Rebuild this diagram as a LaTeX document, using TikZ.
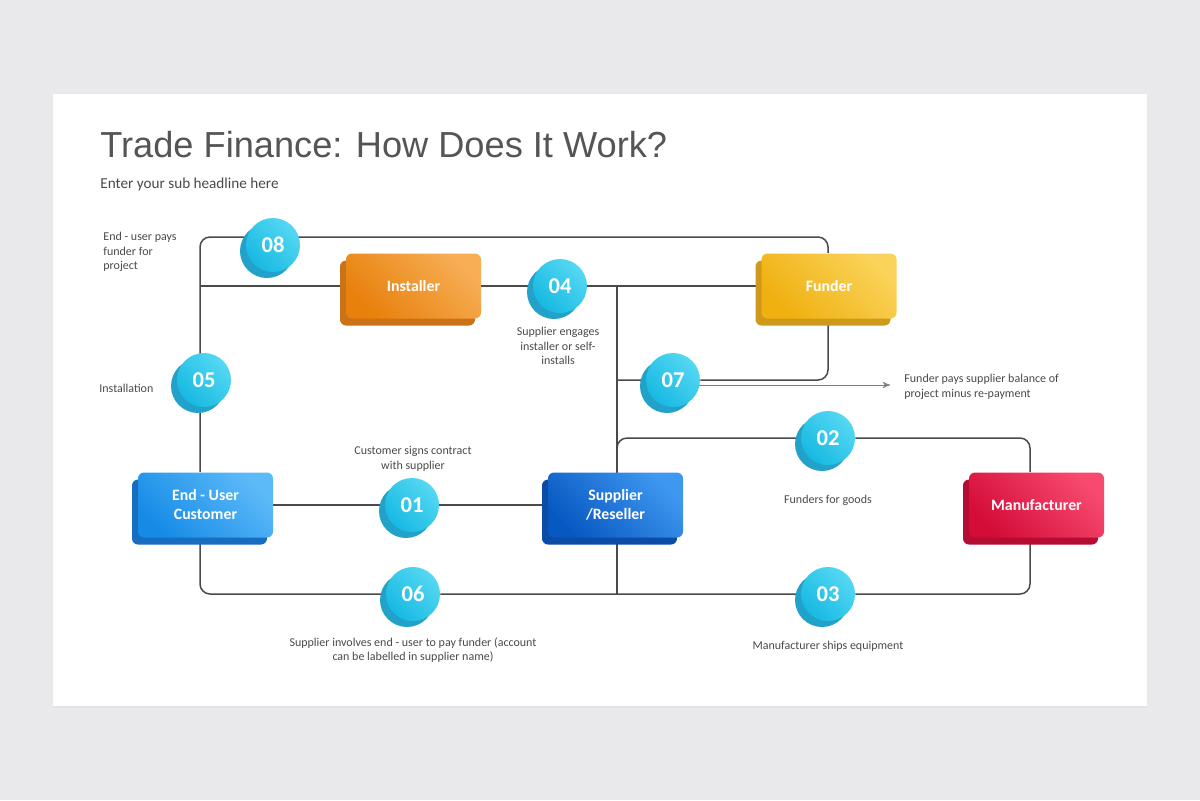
\documentclass[tikz,border=0pt]{standalone}
\usepackage{fontspec}
\setmainfont{Carlito}
\newfontfamily\titlefont{Liberation Sans}
\usetikzlibrary{shadows}
\usetikzlibrary{arrows}

\definecolor{pagegray}{HTML}{E9E8EA}
\definecolor{linegray}{HTML}{4A4A4A}
\definecolor{textgray}{HTML}{4A4A4A}
\definecolor{titlegray}{HTML}{555555}
\definecolor{cyanlo}{HTML}{17B9E2}
\definecolor{cyanhi}{HTML}{55D8F3}
\definecolor{cyanshade}{HTML}{23A2C9}
\definecolor{orangelo}{HTML}{E8800C}
\definecolor{orangehi}{HTML}{F7AE55}
\definecolor{orangeshade}{HTML}{C97218}
\definecolor{yellowlo}{HTML}{EFB010}
\definecolor{yellowhi}{HTML}{FAD35A}
\definecolor{yellowshade}{HTML}{CF9A1C}
\definecolor{bluelo}{HTML}{168BE6}
\definecolor{bluehi}{HTML}{5DBAF9}
\definecolor{blueshade}{HTML}{176DC0}
\definecolor{navylo}{HTML}{0858C2}
\definecolor{navyhi}{HTML}{3F98F0}
\definecolor{navyshade}{HTML}{0A4CA6}
\definecolor{redlo}{HTML}{D40C38}
\definecolor{redhi}{HTML}{F74A6E}
\definecolor{redshade}{HTML}{B50C33}

\pgfdeclarelayer{bg}
\pgfdeclarelayer{lines}
\pgfsetlayers{bg,lines,main}

\begin{document}
\begin{tikzpicture}[x=0.5pt,y=-0.5pt,>=stealth',
	link/.style={draw=linegray,line width=0.75pt,rounded corners=5pt},
	box/.style n args={3}{rectangle,rounded corners=3pt,minimum width=67.5pt,
		minimum height=32.5pt,inner sep=0pt,text=white,align=center,
		font=\bfseries\fontsize{7.9}{9.5}\selectfont,
		left color=#1,right color=#2,shading angle=135,
		general shadow={fill=#3,shadow xshift=-3pt,shadow yshift=-3.5pt}},
	num/.style={circle,minimum size=27pt,inner sep=0pt,text=white,
		font=\bfseries\fontsize{11.3}{13}\selectfont,
		left color=cyanlo,right color=cyanhi,shading angle=135,
		general shadow={fill=cyanshade,shadow xshift=-3pt,shadow yshift=-3pt}},
	note/.style={text=textgray,font=\fontsize{6}{7.25}\selectfont,inner sep=0pt}]
	
	\useasboundingbox (0,0) rectangle (1200,800);
	\begin{pgfonlayer}{bg}
		\fill[pagegray] (0,0) rectangle (1200,800);
		\fill[white,drop shadow={opacity=0.05,shadow xshift=0pt,shadow yshift=-1pt}] (53,94) rectangle (1147,706);
	\end{pgfonlayer}
	
	\node[anchor=base west,inner sep=0pt,text=titlegray,font=\titlefont\fontsize{18.1}{22}\selectfont] (title) at (100,157) {Trade Finance: How Does It Work?};
	\node[anchor=base west,inner sep=0pt,text=textgray,font=\fontsize{7.6}{9}\selectfont] (subtitle) at (100,188) {Enter your sub headline here};
	
	\node[box={orangelo}{orangehi}{orangeshade}] (installer) at (413.5,286) {Installer};
	\node[box={yellowlo}{yellowhi}{yellowshade}] (funder) at (829,286) {Funder};
	\node[box={bluelo}{bluehi}{blueshade}] (enduser) at (205.5,505) {End - User\\Customer};
	\node[box={navylo}{navyhi}{navyshade}] (supplier) at (615.5,505) {Supplier\\/Reseller};
	\node[box={redlo}{redhi}{redshade}] (manuf) at (1036.5,505) {Manufacturer};
	
	\node[num] (c01) at (412,505) {01};
	\node[num] (c02) at (828,438) {02};
	\node[num] (c03) at (828,594) {03};
	\node[num] (c04) at (560,286) {04};
	\node[num] (c05) at (204,380) {05};
	\node[num] (c06) at (413,594) {06};
	\node[num] (c07) at (673,380) {07};
	\node[num] (c08) at (273,245) {08};
	
	\node[note,anchor=north west,align=left] (n08) at (103,232) {End - user pays\\funder for\\project};
	\node[note,anchor=west] (n05) at (99,388) {Installation};
	\node[note,anchor=north,align=center] (n04) at (558,327) {Supplier engages\\installer or self-\\installs};
	\node[note,anchor=north west,align=left] (n07) at (904,374) {Funder pays supplier balance of\\project minus re-payment};
	\node[note,anchor=north,align=center] (n01) at (413,446) {Customer signs contract\\with supplier};
	\node[note] (n02) at (828,500) {Funders for goods};
	\node[note,anchor=north,align=center] (n06) at (413,637) {Supplier involves end - user to pay funder (account\\can be labelled in supplier name)};
	\node[note] (n03) at (828,646) {Manufacturer ships equipment};
	
	\begin{pgfonlayer}{lines}
		\coordinate (tl) at (200,237);
		\coordinate (tr) at (828,237);
		\coordinate (sv) at (617,286);
		\coordinate (mx) at (1030,438);
		\coordinate (arrowend) at (890,385);
		\draw[link] (enduser.north -| tl) -- (tl) -- (tr) -- (funder.north -| tr);
		\draw[link] (tl |- installer) -- (installer) -- (c04) -- (funder);
		\draw[link] (sv) -- (sv |- c06);
		\draw[link] (sv |- c07) -- (c07) -- (c07 -| tr) -- (funder.south -| tr);
		\draw[->,draw=gray,line width=0.4pt] (c07 |- arrowend) -- (arrowend);
		\draw[link] (sv |- supplier.north) -- (sv |- c02) -- (c02) -- (c02 -| mx) -- (manuf.north -| mx);
		\draw[link] (enduser) -- (c01) -- (supplier);
		\draw[link] (enduser.south -| tl) -- (tl |- c06) -- (c06) -- (c03) -- (c03 -| mx) -- (manuf.south -| mx);
	\end{pgfonlayer}
\end{tikzpicture}
\end{document}
